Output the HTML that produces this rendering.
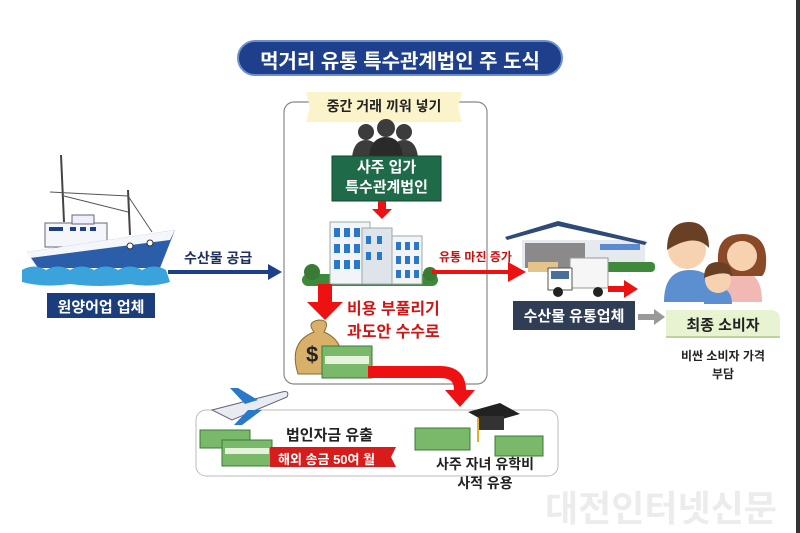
<!DOCTYPE html>
<html><head><meta charset="utf-8"><style>
body{margin:0;width:800px;height:533px;background:#fff;position:relative;overflow:hidden;font-family:"Liberation Sans","Noto Sans CJK KR",sans-serif}
.a{position:absolute}
.t{position:absolute;white-space:nowrap;font-weight:bold}
</style></head><body>
<svg class="a" style="left:0;top:0" width="800" height="533">
<rect x="796" y="0" width="4" height="533" fill="#333"/>
<!-- title -->
<rect x="238" y="41" width="324" height="34" rx="17" fill="#1d3f8c" stroke="#6d8fd0" stroke-width="2"/>
<!-- middle box -->
<rect x="284" y="102" width="203" height="282" rx="10" fill="none" stroke="#888" stroke-width="1.2"/>
<polygon points="306,92 462,92 458,107 462,122 306,122 310,107" fill="#fbf3c9"/>
<!-- people -->
<g fill="#3c3c3c">
<circle cx="366" cy="132" r="8"/><path d="M352,157 q2,-17 14,-17 q12,0 14,17z"/>
<circle cx="404" cy="132" r="8"/><path d="M390,157 q2,-17 14,-17 q12,0 14,17z"/>
<circle cx="386" cy="128" r="9"/><path d="M369,157 q2,-20 17,-20 q15,0 17,20z" fill="#2a2a2a"/>
</g>
<rect x="332" y="156" width="109" height="45" fill="#1f6a48" stroke="#0e4a2e"/>
<rect x="378" y="201" width="8" height="8" fill="#e11"/><polygon points="372,209 392,209 382,219" fill="#e11"/>
<!-- building -->
<rect x="302" y="274" width="136" height="12" rx="6" fill="#3d8a3a"/>
<rect x="330" y="222" width="40" height="62" fill="#f2f4f7" stroke="#9aa"/>
<rect x="362" y="228" width="30" height="56" fill="#dfe4ea" stroke="#9aa"/>
<rect x="392" y="236" width="30" height="48" fill="#f2f4f7" stroke="#9aa"/>
<g fill="#2a78c8">
<rect x="334" y="228" width="6" height="9"/><rect x="344" y="228" width="6" height="9"/><rect x="354" y="228" width="6" height="9"/>
<rect x="334" y="244" width="6" height="9"/><rect x="344" y="244" width="6" height="9"/><rect x="354" y="244" width="6" height="9"/>
<rect x="334" y="260" width="6" height="9"/><rect x="344" y="260" width="6" height="9"/><rect x="354" y="260" width="6" height="9"/>
<rect x="396" y="242" width="5" height="8"/><rect x="405" y="242" width="5" height="8"/><rect x="414" y="242" width="5" height="8"/>
<rect x="396" y="256" width="5" height="8"/><rect x="405" y="256" width="5" height="8"/><rect x="414" y="256" width="5" height="8"/>
<rect x="396" y="270" width="5" height="8"/><rect x="405" y="270" width="5" height="8"/><rect x="414" y="270" width="5" height="8"/>
<rect x="366" y="236" width="5" height="8"/><rect x="377" y="236" width="5" height="8"/>
<rect x="366" y="252" width="5" height="8"/><rect x="377" y="252" width="5" height="8"/>
</g>
<circle cx="312" cy="272" r="8" fill="#3a7a34"/><circle cx="430" cy="274" r="7" fill="#3a7a34"/>
<!-- boat -->
<line x1="61" y1="155" x2="64" y2="222" stroke="#444" stroke-width="2"/>
<line x1="128" y1="190" x2="130" y2="235" stroke="#444" stroke-width="2"/>
<line x1="50" y1="192" x2="128" y2="196" stroke="#555"/>
<line x1="64" y1="196" x2="128" y2="212" stroke="#555"/>
<line x1="128" y1="196" x2="152" y2="232" stroke="#555"/>
<rect x="45" y="223" width="62" height="24" fill="#f4f6f9" stroke="#667"/>
<rect x="72" y="215" width="22" height="9" fill="#eef" stroke="#667"/>
<g fill="#1d3f8c"><rect x="70" y="227" width="6" height="4"/><rect x="80" y="227" width="6" height="4"/><rect x="90" y="227" width="6" height="4"/><rect x="49" y="227" width="14" height="4"/></g>
<path d="M27,252 L175,230 L160,268 L38,268z" fill="#2a5ea8"/>
<path d="M27,252 L175,230 L170,240 L30,258z" fill="#f4f6f9"/>
<circle cx="130" cy="246" r="3" fill="#fff" stroke="#333"/><circle cx="150" cy="243" r="3" fill="#fff" stroke="#333"/>
<path d="M22,270 q12,-7 24,0 q12,-7 24,0 q12,-7 24,0 q12,-7 24,0 q12,-7 24,0 q12,-7 24,0 L170,282 q-20,6 -40,2 q-30,4 -60,0 q-25,4 -48,-2z" fill="#3aa3dc"/>
<!-- blue arrow -->
<line x1="168" y1="272" x2="270" y2="272" stroke="#1e3f8a" stroke-width="4"/>
<polygon points="268,264 282,272 268,280" fill="#1e3f8a"/>
<rect x="47" y="293" width="108" height="25" fill="#1b3d7c"/>
<!-- red right arrow -->
<line x1="432" y1="272" x2="510" y2="272" stroke="#e11" stroke-width="4"/>
<polygon points="508,262 526,272 508,282" fill="#e11"/>
<!-- warehouse -->
<rect x="522" y="240" width="123" height="28" fill="#e6e9ee"/>
<rect x="525" y="243" width="60" height="25" fill="#8a8a8a"/>
<rect x="600" y="244" width="40" height="6" fill="#5a8ad0"/>
<polygon points="505,237 558,221 647,242 645,245 558,226 507,240" fill="#2d4a78"/>
<rect x="528" y="262" width="30" height="10" fill="#e4c48a"/>
<rect x="600" y="262" width="55" height="10" rx="4" fill="#3d8a3a"/>
<rect x="570" y="258" width="38" height="30" fill="#f6f6f6" stroke="#999"/>
<rect x="548" y="268" width="24" height="22" fill="#fff" stroke="#555"/>
<rect x="551" y="271" width="18" height="8" fill="#4a6e9a"/>
<circle cx="558" cy="292" r="5" fill="#222"/><circle cx="598" cy="292" r="5" fill="#222"/>
<rect x="608" y="286" width="18" height="6" fill="#e11"/><polygon points="624,280 638,289 624,298" fill="#e11"/>
<rect x="513" y="301" width="122" height="29" fill="#2f3e55"/>
<!-- gray arrow -->
<rect x="638" y="314" width="18" height="6" fill="#999"/><polygon points="654,309 665,317 654,325" fill="#999"/>
<path d="M666,310 L770,310 q10,0 10,10 L780,338 L666,338z" fill="#e8f3d2"/><rect x="666" y="336" width="114" height="2" fill="#bcd39a"/>
<!-- family -->
<path d="M664,302 q0,-32 26,-32 q26,0 28,32z" fill="#5b8fcf"/>
<circle cx="687" cy="250" r="19" fill="#f7d2b0"/><path d="M667,250 q0,-28 22,-28 q20,0 20,26 q-14,-16 -42,2z" fill="#6a4024"/>
<path d="M722,302 q0,-30 20,-30 q20,0 20,30z" fill="#f2b8b4"/>
<path d="M718,262 q-2,-28 24,-28 q26,0 24,30 q0,8 -4,12 l-40,0 q-4,-6 -4,-14z" fill="#8a4a28"/>
<circle cx="742" cy="256" r="15" fill="#f7d2b0"/>
<path d="M704,304 q0,-16 14,-16 q14,0 14,16z" fill="#5b8fcf"/>
<circle cx="718" cy="280" r="13" fill="#f7d2b0"/><path d="M704,278 q0,-16 14,-16 q14,0 14,14 q-8,-6 -28,2z" fill="#6a4024"/>
<!-- red down arrow big -->
<rect x="318" y="284" width="14" height="20" fill="#e11"/><polygon points="307,302 343,302 325,320" fill="#e11"/>
<!-- money bag -->
<path d="M298,374 q-10,-32 16,-42 q-8,-10 5,-12 q12,0 5,12 q24,10 16,42z" fill="#d8b06a" stroke="#8a6a30"/>
<text x="306" y="362" font-size="22" font-weight="bold" fill="#222">$</text>
<rect x="322" y="346" width="50" height="32" fill="#7ab86a" stroke="#3a7a3a"/>
<rect x="325" y="356" width="44" height="8" fill="#e6f2dc"/>
<!-- red curved arrow -->
<path d="M368,372 L440,372 Q460,372 460,390 L460,393" fill="none" stroke="#e11" stroke-width="12"/>
<polygon points="445,390 475,390 460,407" fill="#e11"/>
<!-- bottom box -->
<rect x="196" y="410" width="362" height="66" rx="10" fill="none" stroke="#bbb"/>
<!-- plane -->
<path d="M212,410 L282,392 q8,-2 5,5 L232,420z" fill="#e8ecf2" stroke="#667"/>
<polygon points="245,404 230,388 238,388 258,400" fill="#2a78c8"/>
<polygon points="248,410 234,425 242,425 262,410" fill="#2a78c8"/>
<!-- money stacks -->
<rect x="200" y="430" width="50" height="18" fill="#7ab86a" stroke="#3a7a3a"/>
<rect x="222" y="440" width="50" height="26" fill="#7ab86a" stroke="#3a7a3a"/>
<rect x="225" y="448" width="44" height="6" fill="#e6f2dc"/>
<polygon points="270,447 396,447 391,457 396,467 270,467" fill="#d81c1c"/>
<rect x="415" y="428" width="55" height="22" fill="#7ab86a" stroke="#3a7a3a"/>
<rect x="495" y="436" width="48" height="20" fill="#7ab86a" stroke="#3a7a3a"/>
<polygon points="468,412 500,403 520,414 488,423" fill="#222"/>
<rect x="478" y="416" width="26" height="14" fill="#333"/>
<line x1="478" y1="418" x2="478" y2="442" stroke="#e8b020" stroke-width="2"/>
</svg>
<div class="t" style="left:238px;top:45px;width:324px;text-align:center;color:#fff;font-size:20px">먹거리 유통 특수관계법인 주 도식</div>
<div class="t" style="left:306px;top:96px;width:156px;text-align:center;color:#222;font-size:14px">중간 거래 끼워 넣기</div>
<div class="t" style="left:332px;top:158px;width:109px;text-align:center;color:#fff;font-size:15px;line-height:20px">사주 입가<br>특수관계법인</div>
<div class="t" style="left:184px;top:248px;color:#1e2f5a;font-size:14px">수산물 공급</div>
<div class="t" style="left:47px;top:296px;width:108px;text-align:center;color:#fff;font-size:15px">원양어업 업체</div>
<div class="t" style="left:439px;top:248px;color:#c81010;font-size:12px">유통 마진 증가</div>
<div class="t" style="left:513px;top:305px;width:122px;text-align:center;color:#fff;font-size:15px">수산물 유통업체</div>
<div class="t" style="left:666px;top:314px;width:114px;text-align:center;color:#222;font-size:15px">최종 소비자</div>
<div class="t" style="left:666px;top:347px;width:114px;text-align:center;color:#222;font-size:12px;line-height:18px">비싼 소비자 가격<br>부담</div>
<div class="t" style="left:347px;top:298px;color:#d01515;font-size:16px;line-height:23px">비용 부풀리기<br>과도안 수수로</div>
<div class="t" style="left:286px;top:424px;color:#222;font-size:15px">법인자금 유출</div>
<div class="t" style="left:278px;top:449px;color:#fff;font-size:13px">해외 송금 50여 월</div>
<div class="t" style="left:420px;top:455px;width:130px;text-align:center;color:#222;font-size:14px;line-height:19px">사주 자녀 유학비<br>사적 유용</div>
<div class="t" style="left:545px;top:480px;color:#ececec;font-size:36px">대전인터넷신문</div>
</body></html>
